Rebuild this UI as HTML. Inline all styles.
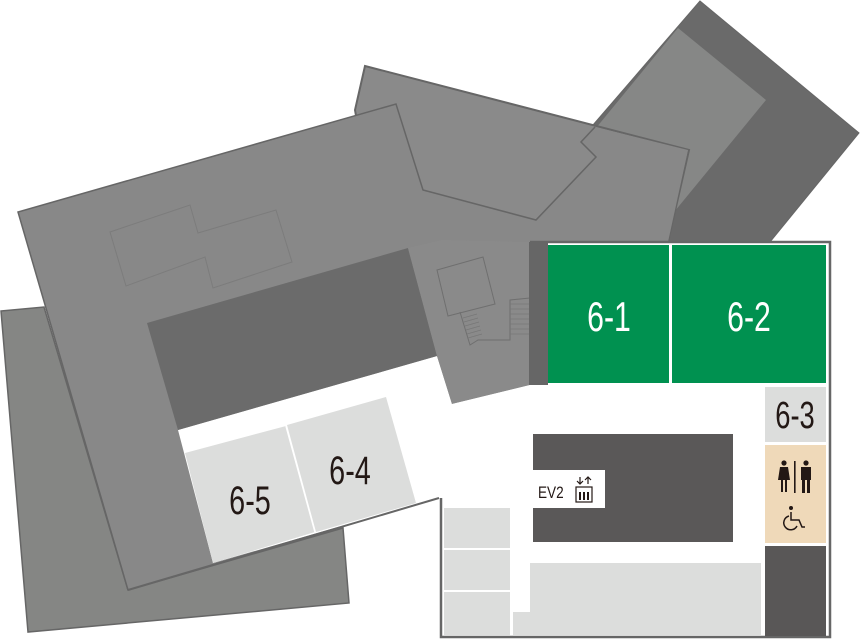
<!DOCTYPE html>
<html><head><meta charset="utf-8"><style>
html,body{margin:0;padding:0;background:#fff;}
svg{display:block;}
.n{font-family:"Liberation Sans",sans-serif;}
</style></head><body>
<svg width="860" height="639" viewBox="0 0 860 639" xmlns="http://www.w3.org/2000/svg">
<polygon points="1,311 44,307 128,590 343,528 349,603 28,632" fill="#858684" stroke="#666" stroke-width="1.5"/>
<polygon points="700,1 859,133 770,242 640,242 580,140" fill="#6a6a6a" stroke="#666" stroke-width="1"/>
<polygon points="678,28 766,100 670,217 640,217 596,128" fill="#868786"/>
<polygon points="365,66 689,150 668,242 380,250 355,110" fill="#8a8a8a" stroke="#666" stroke-width="2"/>
<polygon points="18,212 396,104 423,190 536,220 596,157 581,142 595,127 688,150 668,242 530,242 530,385 452,404 437,356 178,430 213,563 439,498 128,590" fill="#888888"/>
<polyline points="128,590 18,212 396,104 423,190 536,220 596,157 581,142 595,127" fill="none" stroke="#666" stroke-width="1.5"/>
<polyline points="128,590 439,498" fill="none" stroke="#666" stroke-width="2"/>
<polygon points="110,232 190,205 198,233 276,210 292,262 213,288 205,257 126,286" fill="none" stroke="#7c7c7c" stroke-width="1"/>
<polygon points="147,323 408,248 437,356 178,430" fill="#6b6b6b"/>
<polygon points="408,248 442,240 530,242 530,385 452,404 437,356" fill="#8a8a8a"/>
<polygon points="437,270 483,257 495,304 448,316" fill="none" stroke="#6f6f6f" stroke-width="1"/>
<polyline points="460,312 470,345 478,340 510,340 510,300 530,298" fill="none" stroke="#6f6f6f" stroke-width="1"/>
<g stroke="#777" stroke-width="0.8">
<line x1="463" y1="318" x2="477" y2="314"/><line x1="464" y1="322" x2="478" y2="318"/><line x1="465" y1="326" x2="479" y2="322"/><line x1="466" y1="330" x2="480" y2="326"/><line x1="467" y1="334" x2="481" y2="330"/><line x1="468" y1="338" x2="482" y2="334"/>
<line x1="510" y1="304" x2="530" y2="304"/><line x1="510" y1="309" x2="530" y2="309"/><line x1="510" y1="314" x2="530" y2="314"/><line x1="510" y1="319" x2="530" y2="319"/><line x1="510" y1="324" x2="530" y2="324"/><line x1="510" y1="329" x2="530" y2="329"/><line x1="510" y1="334" x2="530" y2="334"/>
</g>
<polygon points="185,453 286,426 315,532 213,563" fill="#dcdddc"/>
<polygon points="287,425 386,397 416,503 316,532" fill="#dcdddc"/>
<line x1="286" y1="426" x2="315" y2="532" stroke="#fff" stroke-width="1.5"/>
<text class="n" transform="translate(250,514) scale(0.72,1)" font-size="40" text-anchor="middle" fill="#231815">6-5</text>
<text class="n" transform="translate(350,484) scale(0.72,1)" font-size="40" text-anchor="middle" fill="#231815">6-4</text>
<rect x="530" y="242" width="300" height="143" fill="#fff"/>
<polygon points="441,407 452,404 530,385 830,385 830,637 441,637" fill="#fff"/>
<polyline points="530,242 830,242 830,637 441,637 441,498" fill="none" stroke="#666" stroke-width="2.5"/>
<rect x="529" y="242" width="19" height="143" fill="#666"/>
<rect x="548" y="245" width="121" height="138" fill="#009150"/>
<rect x="672" y="245" width="154" height="138" fill="#009150"/>
<text class="n" transform="translate(609,331) scale(0.72,1)" font-size="42" text-anchor="middle" fill="#fff">6-1</text>
<text class="n" transform="translate(749,331) scale(0.72,1)" font-size="42" text-anchor="middle" fill="#fff">6-2</text>
<rect x="765" y="387" width="61" height="55" fill="#dcdddc"/>
<text class="n" transform="translate(795,428) scale(0.72,1)" font-size="38" text-anchor="middle" fill="#231815">6-3</text>
<rect x="765" y="445" width="61" height="98" fill="#efd9b9"/>
<rect x="765" y="546" width="61" height="90" fill="#595757"/>
<g fill="#231815">
<circle cx="784" cy="463" r="2.6"/><polygon points="780,467 788,467 790,480 778,480"/><rect x="781" y="480" width="2" height="12"/><rect x="785" y="480" width="2" height="12"/>
<rect x="794" y="461" width="1.6" height="32"/>
<circle cx="806" cy="463" r="2.6"/><rect x="801" y="467" width="10" height="13"/><rect x="802" y="480" width="3" height="13"/><rect x="807" y="480" width="3" height="13"/>
<circle cx="791" cy="508" r="2"/>
</g>
<path d="M791,512 v8 h8 l3,7 h3 M789,516 a7,7 0 1 0 8,10" fill="none" stroke="#231815" stroke-width="1.5"/>
<rect x="533" y="434" width="200" height="108" fill="#5a5858"/>
<rect x="533" y="470" width="72" height="38" fill="#fff"/>
<text class="n" transform="translate(538,498) scale(0.8,1)" font-size="17" fill="#231815">EV2</text>
<g stroke="#231815" stroke-width="1.2" fill="none">
<rect x="576" y="487" width="16" height="15"/>
<path d="M580,477 v7 M577,481 l3,3 l3,-3 M588,484 v-7 M585,480 l3,-3 l3,3"/>
</g>
<g fill="#231815"><rect x="579" y="492" width="2" height="8"/><rect x="583" y="492" width="2" height="8"/><rect x="587" y="492" width="2" height="8"/></g>
<rect x="444" y="508" width="66" height="40" fill="#dcdddc"/>
<rect x="444" y="550" width="66" height="40" fill="#dcdddc"/>
<rect x="444" y="592" width="66" height="43" fill="#dcdddc"/>
<rect x="530" y="563" width="231" height="72" fill="#dcdddc"/>
<rect x="513" y="612" width="20" height="23" fill="#dcdddc"/>
</svg>
</body></html>
